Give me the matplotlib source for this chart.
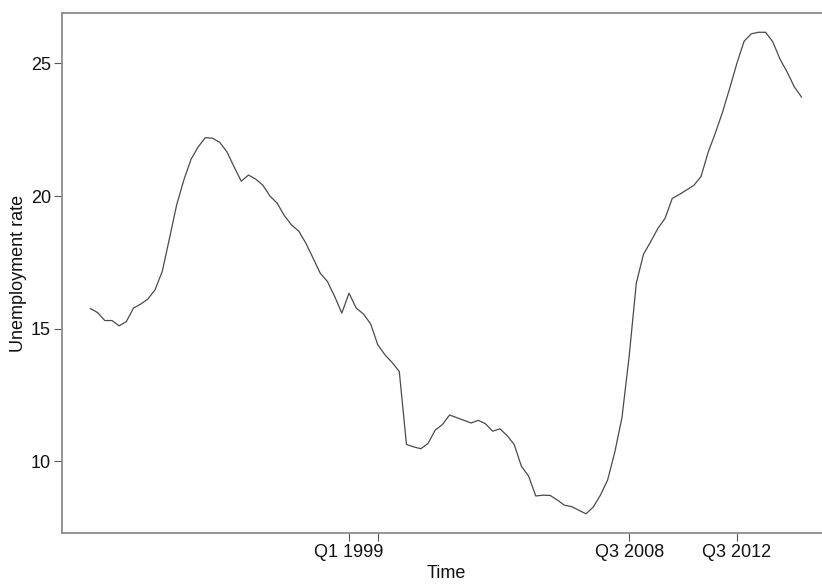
# Quarterly unemployment rate, drawn as a plain R-style time series plot

import matplotlib.pyplot as plt
import numpy as np

# Unemployment rate, one value per quarter
rate = [
    15.76, 15.61, 15.31, 15.31, 15.11, 15.27, 15.78, 15.93, 16.12, 16.47,
    17.16, 18.40, 19.66, 20.60, 21.38, 21.85, 22.20, 22.18, 22.02, 21.67,
    21.10, 20.56, 20.79, 20.64, 20.41, 20.00, 19.73, 19.26, 18.91, 18.68,
    18.22, 17.66, 17.09, 16.78, 16.22, 15.59, 16.34, 15.78, 15.56, 15.19,
    14.40, 14.02, 13.73, 13.39, 10.64, 10.55, 10.48, 10.68, 11.18, 11.39,
    11.75, 11.65, 11.55, 11.45, 11.55, 11.42, 11.14, 11.23, 10.98, 10.64,
    9.82, 9.45, 8.70, 8.73, 8.72, 8.55, 8.35, 8.30, 8.16, 8.03,
    8.28, 8.73, 9.30, 10.35, 11.65, 13.96, 16.72, 17.81, 18.28, 18.78,
    19.16, 19.91, 20.06, 20.23, 20.40, 20.73, 21.65, 22.37, 23.16, 24.06,
    25.00, 25.83, 26.11, 26.17, 26.17, 25.81, 25.16, 24.67, 24.11, 23.73,
]

# quarter positions that get a tick, and their labels
tick_pos = [36, 40, 75, 90]
tick_labels = ['Q1 1999', '', 'Q3 2008', 'Q3 2012']

plt.rcParams['font.family'] = ['Liberation Sans', 'DejaVu Sans']

fig = plt.figure(figsize=(8.22, 5.86), dpi=100)
ax = fig.add_axes([0.0754, 0.0904, 0.9343, 0.8874])

t = np.arange(len(rate))
ax.plot(t, rate, color='#4a4a4a', linewidth=0.9)

# pad both axes by 4% of the data range
span_x = t[-1] - t[0]
ax.set_xlim(t[0] - 0.04 * span_x, t[-1] + 0.04 * span_x)
span_y = max(rate) - min(rate)
ax.set_ylim(min(rate) - 0.04 * span_y, max(rate) + 0.04 * span_y)

ax.set_xticks(tick_pos)
ax.set_xticklabels(tick_labels)
ax.set_yticks([10, 15, 20, 25])

for side in ['left', 'bottom', 'top', 'right']:
    ax.spines[side].set_color('#8c8c8c')
    ax.spines[side].set_linewidth(1.3)

ax.tick_params(axis='both', length=6, width=0.8, color='#555555',
               labelsize=13, labelcolor='#111111', pad=2)

ax.set_xlabel('Time', fontsize=13, color='#111111', va='center')
ax.set_ylabel('Unemployment rate', fontsize=13, color='#111111', va='center')
# place axis titles by hand, close to the tick labels
ax.xaxis.set_label_coords(0.5, -0.077)
ax.yaxis.set_label_coords(-0.057, 0.5)

fig.savefig('out.png', dpi=100)
